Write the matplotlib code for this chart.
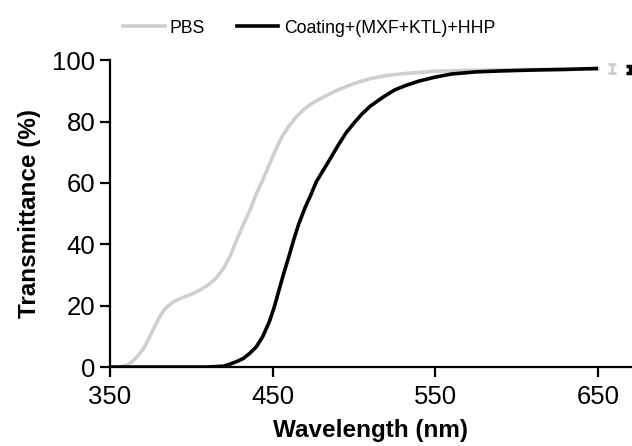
import matplotlib.pyplot as plt

plt.rcParams['font.family'] = ['Liberation Sans', 'DejaVu Sans']

# PBS (gray)
pbs_wl = [350, 355, 360, 363, 366, 370, 373, 376, 379, 381, 383, 385, 388, 391,
          395, 400, 405, 410, 415, 420, 424, 428, 432, 436, 440, 444, 448, 452,
          456, 460, 465, 470, 475, 480, 490, 500, 510, 520, 530, 540, 550, 570,
          600, 630, 650]
pbs_t = [0, 0, 0.5, 1.5, 3, 5.5, 8.3, 11.6, 14.8, 16.8, 18.4, 19.6, 20.9, 21.8,
         22.7, 23.7, 25, 26.6, 28.8, 32.3, 36.3, 41.5, 46.5, 51, 56.5, 61, 66, 71,
         75.3, 78.5, 81.8, 84.3, 86.2, 87.6, 90.3, 92.4, 94, 95, 95.6, 96, 96.4, 96.7,
         96.9, 97.0, 97.1]

# Coating+(MXF+KTL)+HHP (black)
coat_wl = [350, 380, 410, 420, 424, 428, 432, 436, 440, 444, 448, 451, 454, 457,
           460, 463, 466, 470, 473, 477, 481, 485, 490, 495, 500, 505, 510, 518,
           525, 532, 540, 550, 560, 575, 590, 610, 630, 649]
coat_t = [0, 0, 0, 0.3, 1, 1.8, 2.8, 4.5, 6.6, 10, 14.8, 19.5, 25.2, 30.8,
          36, 41.5, 46.5, 52, 55.5, 60.5, 64, 67.5, 72, 76.2, 79.5, 82.5, 85, 88,
          90.3, 91.8, 93.2, 94.5, 95.5, 96.2, 96.5, 96.8, 97.0, 97.3]

# error bars at the end
err_x = [659, 669.5]
err_y = [97.3, 97.0]
err_e = [1.5, 1.2]

fig = plt.figure(figsize=(6.32, 4.46), dpi=100)
ax = fig.add_axes([0.174, 0.177, 0.826, 0.688])

ax.plot(pbs_wl, pbs_t, color='#cfcfcf', lw=2.6, label='PBS')
ax.plot(coat_wl, coat_t, color='black', lw=2.6, label='Coating+(MXF+KTL)+HHP')
ax.errorbar(err_x[0], err_y[0], yerr=err_e[0], color='#cfcfcf', capsize=3,
            elinewidth=2, capthick=2, clip_on=False)
ax.errorbar(err_x[1], err_y[1], yerr=err_e[1], color='black', capsize=3,
            elinewidth=2.5, capthick=2.5, clip_on=False)

ax.set_xlim(350, 671)
ax.set_ylim(0, 100)
ax.set_xticks([350, 450, 550, 650])
ax.set_yticks([0, 20, 40, 60, 80, 100])
ax.spines['top'].set_visible(False)
ax.spines['right'].set_visible(False)
for s in ['left', 'bottom']:
    ax.spines[s].set_linewidth(1.6)
ax.tick_params(labelsize=18.5, width=1.6, length=7, direction='out')
ax.tick_params(axis='x', pad=6)

ax.set_xlabel('Wavelength (nm)', fontsize=17.5, fontweight='bold', labelpad=7)
ax.set_ylabel('Transmittance (%)', fontsize=17.5, fontweight='bold', labelpad=8)

fig.legend(loc='center', bbox_to_anchor=(0.489, 0.937), ncol=2, frameon=False,
           fontsize=12.7, handlelength=2.35, columnspacing=1.8, handletextpad=0.3)

fig.savefig('out.png', dpi=100)
